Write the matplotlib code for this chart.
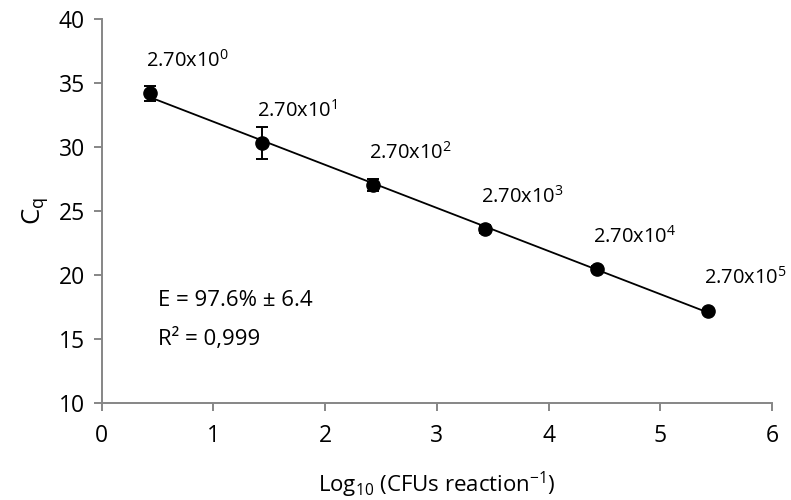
import numpy as np
import matplotlib
matplotlib.use("Agg")
import matplotlib.pyplot as plt

plt.rcParams["font.family"] = ["Open Sans", "DejaVu Sans"]
plt.rcParams["mathtext.fontset"] = "custom"
plt.rcParams["mathtext.rm"] = "Open Sans"
plt.rcParams["mathtext.it"] = "Open Sans"
plt.rcParams["mathtext.default"] = "regular"

# Data
log_cfu = [0.431, 1.431, 2.431, 3.431, 4.431, 5.431]
cq_mean = [34.2, 30.35, 27.05, 23.6, 20.48, 17.22]
cq_err = [0.55, 1.25, 0.5, 0.3, 0.2, 0.15]
exponents = ["0", "1", "2", "3", "4", "5"]
efficiency_text = "E = 97.6% \u00b1 6.4"
r2_text = "R\u00b2 = 0,999"

axis_grey = "#868686"
fs = 15.5

fig = plt.figure(figsize=(7.91, 5.0), dpi=100)
ax = fig.add_axes([0.1286, 0.194, 0.8474, 0.7674])

# Trend line (linear fit) spanning the data
slope, intercept = np.polyfit(log_cfu, cq_mean, 1)
xs = np.array([log_cfu[0], log_cfu[-1]])
ax.plot(xs, slope * xs + intercept, color="black", lw=1.3, zorder=2)

ax.errorbar(log_cfu, cq_mean, yerr=cq_err, fmt="o", color="black",
            markersize=9.5, capsize=4.5, elinewidth=1.4, capthick=1.4, zorder=3)

for x, y, e in zip(log_cfu, cq_mean, exponents):
    ax.annotate("2.70x10$^{%s}$" % e, xy=(x, y), xytext=(-3, 19),
                textcoords="offset points", ha="left", va="baseline",
                fontsize=14.5)

ax.text(0.5, 17.6, efficiency_text, fontsize=fs + 0.5, ha="left", va="baseline")
ax.text(0.5, 14.55, r2_text, fontsize=fs + 0.5, ha="left", va="baseline")

ax.set_xlim(0, 6)
ax.set_ylim(10, 40)
ax.set_xticks(range(0, 7))
ax.set_yticks(range(10, 41, 5))

for side in ["top", "right"]:
    ax.spines[side].set_visible(False)
for side in ["left", "bottom"]:
    ax.spines[side].set_color(axis_grey)
    ax.spines[side].set_linewidth(1.4)
ax.tick_params(axis="both", colors=axis_grey, labelcolor="black",
               direction="out", length=6, width=1.4, labelsize=fs + 1)
ax.tick_params(axis="y", pad=6)
ax.tick_params(axis="x", pad=9)

ax.set_xlabel("Log$_{10}$ (CFUs reaction$^{-1}$)", fontsize=fs + 0.5, labelpad=16)
ax.set_ylabel("C$_{q}$", fontsize=fs + 3, labelpad=6)

fig.savefig("out.png", dpi=100)
